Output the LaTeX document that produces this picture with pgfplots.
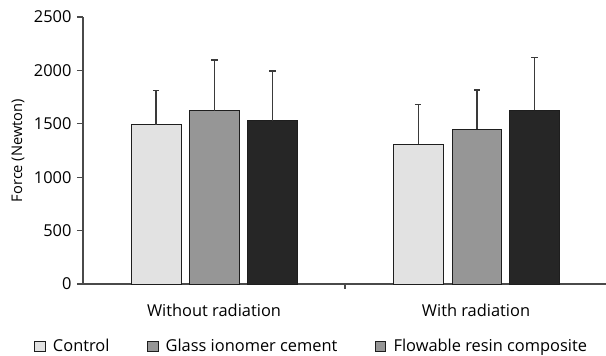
\documentclass[border=0pt]{standalone}
\usepackage{pgfplots}
\pgfplotsset{compat=1.18}
\usepackage{fontspec}
\setmainfont{Open Sans}
\definecolor{cctrl}{HTML}{E2E2E2}
\definecolor{cglass}{HTML}{969696}
\definecolor{cflow}{HTML}{262626}
\definecolor{edge}{HTML}{1E1E1E}
\definecolor{axgray}{HTML}{4A4A4A}
\definecolor{errc}{HTML}{3A3A3A}
\newcommand{\ff}{\fontsize{12.3}{14}\selectfont}
\newcommand{\fl}{\fontsize{11}{13}\selectfont}
\begin{document}
\begin{tikzpicture}
\begin{axis}[
  at={(0,0)}, anchor=south west,
  scale only axis, width=393pt, height=200.25pt,
  xmin=0, xmax=2, ymin=0, ymax=2500,
  axis x line=bottom, axis y line=left,
  axis line style={-, color=axgray, line width=0.8pt},
  clip=false,
  /pgf/number format/assume math mode=true,
  /pgf/number format/set thousands separator={},
  ticklabel style={font=\ff},
  ytick={0,500,1000,1500,2000,2500},
  ytick style={color=axgray, line width=0.8pt},
  tick align=outside,
  major tick length=4.5pt,
  yticklabel style={xshift=-0.6pt},
  xtick={0.5,1.5},
  xticklabels={Without radiation, With radiation},
  xticklabel style={yshift=-7pt},
  xtick style={draw=none},
  extra x ticks={1},
  extra x tick labels={},
  extra x tick style={xtick style={draw=axgray, line width=0.8pt}, major tick length=3.5pt},
  ylabel={Force (Newton)},
  every axis y label/.style={at={(axis description cs:0,0.5)}, xshift=-48.75pt, rotate=90, anchor=center, font=\fl},
  legend style={at={(axis description cs:0.437,0)}, anchor=center, yshift=-47pt, draw=none, fill=none,
    legend columns=3, font=\ff,
    /tikz/every even column/.append style={column sep=26pt}},
  legend cell align=left,
  legend image code/.code={\draw[#1, line width=0.75pt] (0pt,-4pt) rectangle (8pt,4pt); \path (11.5pt,0pt);},
  error bars/y dir=plus, error bars/y explicit,
  error bars/error bar style={color=errc, line width=0.9pt},
  error bars/error mark options={color=errc, line width=0.9pt, rotate=90, mark size=2.4pt},
]
\addplot[ybar, bar width=0.19, bar shift=0pt, fill=cctrl, draw=edge, line width=0.7pt, forget plot]
  coordinates {(0.279,1490) +- (0,323) (1.279,1308) +- (0,375)};
\addplot[ybar, bar width=0.19, bar shift=0pt, fill=cglass, draw=edge, line width=0.7pt, forget plot]
  coordinates {(0.502,1623) +- (0,475) (1.504,1451) +- (0,366)};
\addplot[ybar, bar width=0.19, bar shift=0pt, fill=cflow, draw=edge, line width=0.7pt, forget plot]
  coordinates {(0.723,1530) +- (0,465) (1.723,1626) +- (0,495)};
\addlegendimage{fill=cctrl, draw=edge}
\addlegendentry{Control}
\addlegendimage{fill=cglass, draw=edge}
\addlegendentry{Glass ionomer cement}
\addlegendimage{fill=cglass, draw=edge}
\addlegendentry{Flowable resin composite}
\end{axis}
\pgfresetboundingbox
\useasboundingbox (-62.25pt,-54pt) rectangle (392.25pt,213pt);
\end{tikzpicture}
\end{document}
